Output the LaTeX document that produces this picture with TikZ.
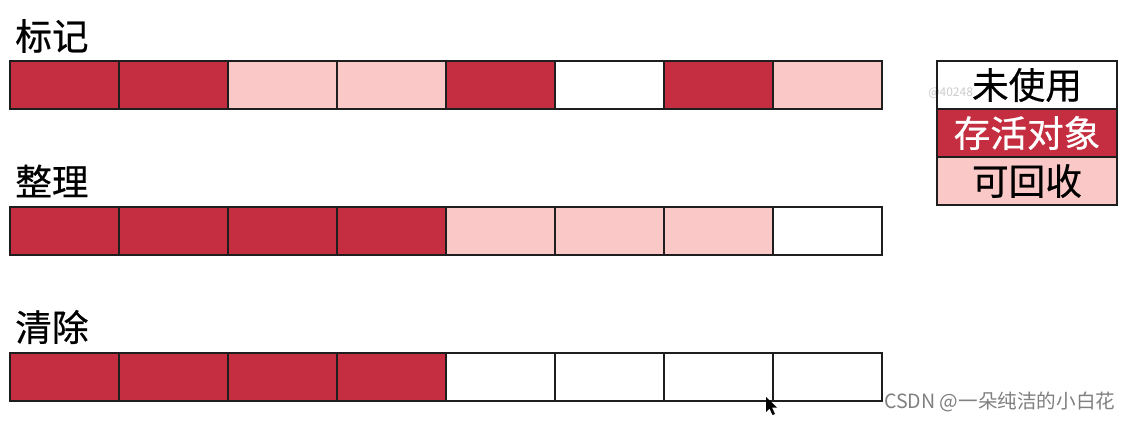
\documentclass[tikz,border=0pt]{standalone}
\usepackage{fontspec}
\setmainfont{Noto Sans CJK SC}
\newfontfamily\heavycjk[FakeBold=0.5]{Noto Sans CJK SC}
\usetikzlibrary{positioning}
\definecolor{live}{RGB}{196,46,64}
\definecolor{junk}{RGB}{250,200,198}
\definecolor{frame}{RGB}{30,30,30}
\begin{document}
\begin{tikzpicture}[x=0.75pt,y=0.75pt,yscale=-1,xscale=1,
  cell/.style={draw=frame,line width=0.9pt,minimum width=81.75pt,minimum height=36pt,inner sep=0pt,outer sep=0pt},
  key/.style={draw=frame,line width=0.9pt,minimum width=135pt,minimum height=36pt,inner sep=0pt,outer sep=0pt,font=\heavycjk\fontsize{27.5}{30}\selectfont},
  tag/.style={anchor=west,inner sep=0pt,font=\heavycjk\fontsize{27.5}{30}\selectfont}]
%set picture size to the screenshot
\fill[white] (0,0) rectangle (1131,421);
\useasboundingbox (0,0) rectangle (1131,421);

% Row labels
\node[tag] (tmark) at (15,36) {标记};
\node[tag] (tcomp) at (15,181) {整理};
\node[tag] (tsweep) at (15,327) {清除};

% Mark row
\foreach \c [count=\i] in {live,live,junk,junk,live,white,live,junk}
  \node[cell,fill=\c] (m\i) at ({64.5+109*(\i-1)},85) {};
% Compact row
\foreach \c [count=\i] in {live,live,live,live,junk,junk,junk,white}
  \node[cell,fill=\c] (c\i) at ({64.5+109*(\i-1)},231) {};
% Sweep row
\foreach \c [count=\i] in {live,live,live,live,white,white,white,white}
  \node[cell,fill=\c] (s\i) at ({64.5+109*(\i-1)},377) {};

% faint watermark, left of legend text
\node[anchor=west,inner sep=0pt,text=black!20,font=\fontsize{9}{10}\selectfont] (wm) at (928,93) {@40248};

% Legend
\node[key,fill=white,fill opacity=0,text opacity=1] (kfree) at (1027,85) {未使用};
\node[key,fill=live,text=white,below=0pt of kfree] (klive) {存活对象};
\node[key,fill=junk,below=0pt of klive] (kjunk) {可回收};

% Mouse pointer
\fill[black] (766,397) -- (766,412) -- (769.5,408.5) -- (772.5,415) -- (775,414) -- (772,407.5) -- (777,407.5) -- cycle;

% CSDN text
\node[anchor=west,inner sep=0pt,text=black!50,font=\fontsize{14.7}{15}\selectfont] (csdn) at (884,402) {CSDN @一朵纯洁的小白花};
\end{tikzpicture}
\end{document}
